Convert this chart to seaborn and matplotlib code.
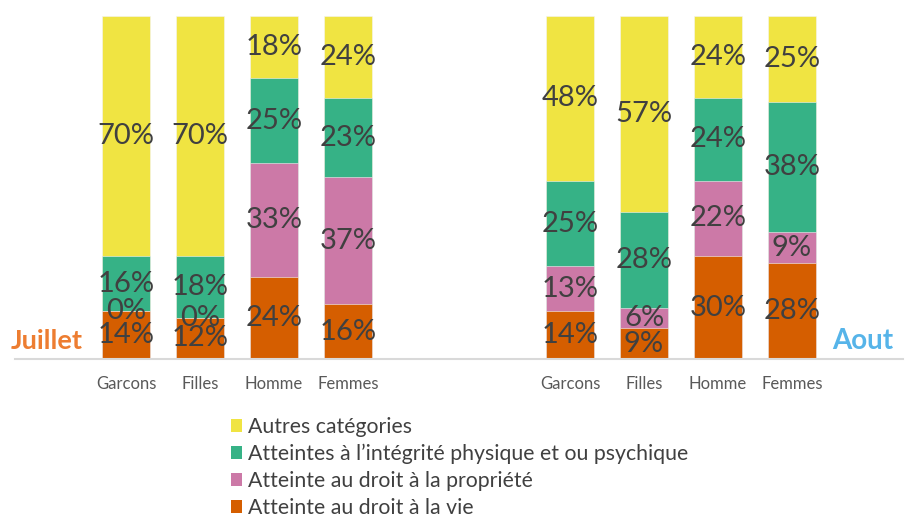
import pandas as pd
import matplotlib.pyplot as plt
import seaborn as sns
from matplotlib.patches import Patch

# Data (percentages), bottom to top of each stacked bar
groups = ["Garcons", "Filles", "Homme", "Femmes"]
juillet_vie = [14, 12, 24, 16]
juillet_propriete = [0, 0, 33, 37]
juillet_integrite = [16, 18, 25, 23]
juillet_autres = [70, 70, 18, 24]
aout_vie = [14, 9, 30, 28]
aout_propriete = [13, 6, 22, 9]
aout_integrite = [25, 28, 24, 38]
aout_autres = [48, 57, 24, 25]

series_labels = [
    "Atteinte au droit à la vie",
    "Atteinte au droit à la propriété",
    "Atteintes à l’intégrité physique et ou psychique",
    "Autres catégories",
]
colors = ["#D55E00", "#CC79A7", "#36B286", "#F0E442"]


def build_frame() -> pd.DataFrame:
    rows = []
    months = [
        ("Juillet", [juillet_vie, juillet_propriete, juillet_integrite, juillet_autres]),
        ("Aout", [aout_vie, aout_propriete, aout_integrite, aout_autres]),
    ]
    for month, layers in months:
        for i, g in enumerate(groups):
            bottom = 0
            for s, layer in enumerate(layers):
                rows.append(
                    {
                        "slot": f"{month} {g}",
                        "serie": s,
                        "value": layer[i],
                        "bottom": bottom,
                        "top": bottom + layer[i],
                    }
                )
                bottom += layer[i]
    return pd.DataFrame(rows)


df = build_frame()

# slots: month label, 4 bars, 2 empty slots, 4 bars, month label
order = (
    ["pad_left"]
    + [f"Juillet {g}" for g in groups]
    + ["gap_1", "gap_2"]
    + [f"Aout {g}" for g in groups]
    + ["pad_right"]
)
tick_labels = [""] + groups + ["", ""] + groups + [""]

sns.set_theme(style="white")
plt.rcParams["font.family"] = ["Lato", "DejaVu Sans"]

fig = plt.figure(figsize=(9.15, 5.2), dpi=100)
ax = fig.add_axes([15 / 915, 161 / 520, 888 / 915, 343 / 520])

# draw cumulative tops from the highest layer down so lower layers sit on top
for s in reversed(range(4)):
    sub = df[df["serie"] == s]
    sns.barplot(
        data=sub,
        x="slot",
        y="top",
        order=order,
        color=colors[s],
        saturation=1,
        width=0.66,
        errorbar=None,
        linewidth=0.4,
        edgecolor="#f4f4f4",
        ax=ax,
    )

# data labels
pos = {name: i for i, name in enumerate(order)}
for _, r in df.iterrows():
    ax.text(
        pos[r["slot"]],
        (r["bottom"] + r["top"]) / 2,
        f"{r['value']}%",
        ha="center",
        va="center",
        fontsize=21,
        color="#404040",
    )

ax.text(-0.07, 5.2, "Juillet", ha="center", va="center", fontsize=19.5,
        fontweight="bold", color="#ED7D31")
ax.text(10.95, 5.2, "Aout", ha="center", va="center", fontsize=20,
        fontweight="bold", color="#56B4E9")

ax.set_xlim(-0.5, len(order) - 0.5)
ax.set_ylim(0, 100)
ax.set_xticks(range(len(order)))
ax.set_xticklabels(tick_labels, fontsize=12, color="#595959")
ax.tick_params(axis="x", length=0, pad=12)
ax.set_yticks([])
ax.set_xlabel("")
ax.set_ylabel("")
for side in ["top", "left", "right"]:
    ax.spines[side].set_visible(False)
ax.spines["bottom"].set_color("#D9D9D9")
ax.spines["bottom"].set_linewidth(1.5)

handles = [Patch(facecolor=colors[s], edgecolor="none", label=series_labels[s])
           for s in reversed(range(4))]
fig.legend(
    handles=handles,
    loc="upper left",
    bbox_to_anchor=(220 / 915, 1 - 406 / 520),
    frameon=False,
    fontsize=15.3,
    labelcolor="#404040",
    handlelength=0.55,
    handleheight=0.55,
    handletextpad=0.25,
    labelspacing=0.33,
    borderpad=0,
)

fig.savefig("out.png", dpi=100)
